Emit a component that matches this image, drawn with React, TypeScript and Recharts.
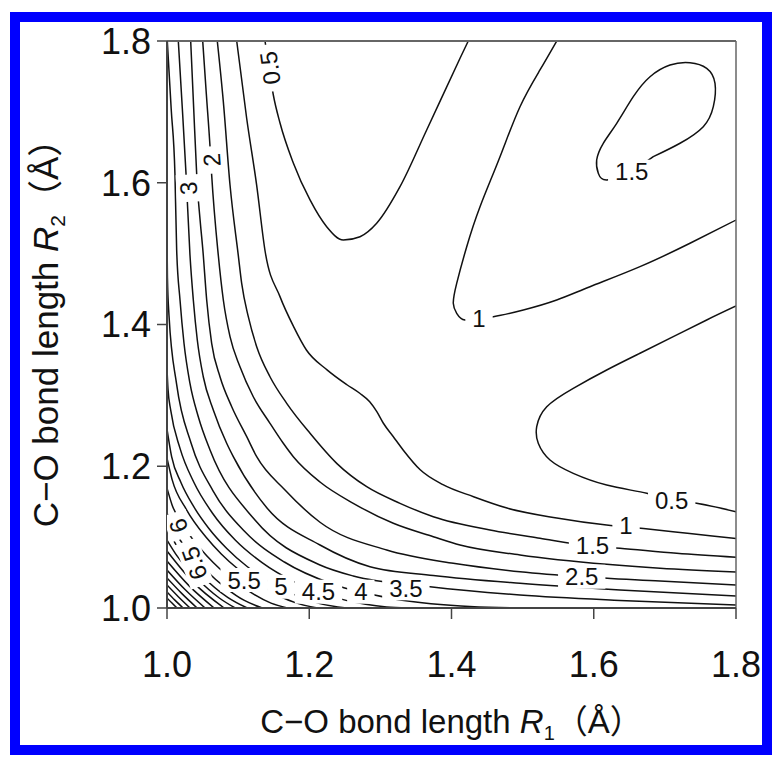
import React from 'react'
import { ComposedChart, Line, Scatter, XAxis, YAxis, ReferenceLine } from 'recharts'

const FONT = "'Liberation Sans', Arial, Helvetica, 'Noto Sans CJK JP', sans-serif"

const X_TICKS = [1.0, 1.2, 1.4, 1.6, 1.8]
const Y_TICKS = [1.0, 1.2, 1.4, 1.6, 1.8]

// contour lines, [R1, R2] in Å
const c05top = [
  [1.1378, 1.8], [1.1434, 1.7619], [1.1495, 1.7238], [1.1589, 1.6843], [1.1776, 1.6279],
  [1.2011, 1.5757], [1.2245, 1.538], [1.2479, 1.5192], [1.2714, 1.5239], [1.2948, 1.5428],
  [1.3276, 1.5944], [1.3651, 1.6744], [1.412, 1.7756], [1.4236, 1.8],
]
const c05right = [
  [1.8, 1.4261], [1.7588, 1.4064], [1.7118, 1.3828], [1.665, 1.3594], [1.6182, 1.3358],
  [1.5712, 1.31], [1.5339, 1.284], [1.5198, 1.2558], [1.522, 1.2324], [1.5385, 1.2088],
  [1.5712, 1.19], [1.6182, 1.1735], [1.6745, 1.1618], [1.7096, 1.1524], [1.7447, 1.1477],
  [1.8, 1.1359],
]
const c1ridge = [
  [1.548, 1.8], [1.5244, 1.7591], [1.4963, 1.7073], [1.4682, 1.6368], [1.4401, 1.5662],
  [1.4214, 1.5098], [1.4073, 1.4581], [1.4025, 1.4299], [1.4073, 1.4158], [1.419, 1.4063],
  [1.4401, 1.4092], [1.4588, 1.411], [1.501, 1.4205], [1.5479, 1.4346], [1.5947, 1.4533],
  [1.665, 1.4816], [1.7353, 1.5146], [1.8, 1.5474],
]
const c15loop = [
  [1.6837, 1.6368], [1.7213, 1.6557], [1.754, 1.6791], [1.7681, 1.7073], [1.7705, 1.7403],
  [1.7588, 1.7615], [1.7353, 1.7694], [1.7072, 1.7661], [1.6791, 1.7496], [1.6556, 1.7214],
  [1.6323, 1.6839], [1.6134, 1.6557], [1.6041, 1.6321], [1.6064, 1.6133], [1.6182, 1.6039],
  [1.651, 1.6152], [1.6837, 1.6368],
]
const c1 = [
  [1.098, 1.8], [1.112, 1.691], [1.126, 1.597], [1.138, 1.503], [1.159, 1.439], [1.178, 1.397],
  [1.196, 1.364], [1.225, 1.336], [1.253, 1.315], [1.271, 1.303], [1.285, 1.291], [1.295, 1.277],
  [1.304, 1.261], [1.318, 1.242], [1.332, 1.223], [1.356, 1.195], [1.388, 1.174], [1.431, 1.157],
  [1.478, 1.141], [1.548, 1.127], [1.618, 1.117], [1.67, 1.112], [1.735, 1.105], [1.8, 1.098],
]
const c15 = [
  [1.0707, 1.8], [1.0792, 1.7144], [1.0886, 1.5968], [1.1002, 1.498], [1.105, 1.458],
  [1.1143, 1.411], [1.1261, 1.3687], [1.1448, 1.3263], [1.1683, 1.2888], [1.2011, 1.2465],
  [1.2386, 1.2041], [1.2808, 1.1711], [1.3276, 1.1477], [1.3744, 1.1288], [1.4541, 1.11],
  [1.5244, 1.0983], [1.5971, 1.0874], [1.6369, 1.0842], [1.7167, 1.0771], [1.8, 1.0715],
]
const c2 = [
  [1.0502, 1.8], [1.0553, 1.7252], [1.0605, 1.6509], [1.0628, 1.611], [1.0721, 1.498],
  [1.0792, 1.4346], [1.0886, 1.3828], [1.1026, 1.3404], [1.1213, 1.2981], [1.1448, 1.2606],
  [1.1635, 1.2324], [1.1776, 1.2135], [1.2151, 1.1778], [1.2619, 1.1477], [1.3182, 1.1195],
  [1.3744, 1.1006], [1.412, 1.0889], [1.4963, 1.0748], [1.6182, 1.0616], [1.6932, 1.056],
  [1.8, 1.0508],
]
const c25 = [
  [1.0333, 1.8], [1.0375, 1.7055], [1.0418, 1.6109], [1.051, 1.498], [1.0558, 1.4346],
  [1.0628, 1.3735], [1.0745, 1.3263], [1.091, 1.284], [1.1121, 1.2417], [1.1261, 1.2135],
  [1.1659, 1.1665], [1.2151, 1.121], [1.3089, 1.0818], [1.4025, 1.063], [1.4963, 1.0512],
  [1.5831, 1.0441], [1.6932, 1.0381], [1.8, 1.0324],
]
const c3 = [
  [1.0159, 1.8], [1.0214, 1.7073], [1.0267, 1.6133], [1.0323, 1.498], [1.037, 1.4346],
  [1.0426, 1.3781], [1.051, 1.3263], [1.0651, 1.2794], [1.0839, 1.2324], [1.0932, 1.2135],
  [1.1406, 1.1411], [1.2151, 1.0889], [1.2854, 1.0583], [1.3744, 1.0459], [1.4963, 1.0348],
  [1.6369, 1.0254], [1.8, 1.0169],
]
const c35 = [
  [1.0004, 1.8], [1.0059, 1.704], [1.0112, 1.6109], [1.0136, 1.5051], [1.0183, 1.4346],
  [1.0239, 1.3735], [1.0323, 1.317], [1.044, 1.2699], [1.0605, 1.2229], [1.1237, 1.1241],
  [1.2151, 1.0607], [1.2619, 1.0452], [1.3698, 1.03], [1.4963, 1.0183], [1.6369, 1.0106],
  [1.8, 1.0042],
]
const c4 = [
  [1.0, 1.5245], [1.0006, 1.4667], [1.0028, 1.4131], [1.0135, 1.3158], [1.0338, 1.2327],
  [1.0649, 1.165], [1.1086, 1.1086], [1.165, 1.0649], [1.2327, 1.0338], [1.3158, 1.0135],
  [1.4131, 1.0028], [1.4667, 1.0006], [1.5245, 1.0],
]
const c45 = [
  [1.0, 1.3384], [1.0014, 1.3088], [1.0052, 1.2792], [1.0182, 1.2256], [1.0379, 1.177],
  [1.064, 1.1337], [1.0959, 1.0959], [1.1337, 1.064], [1.177, 1.0379], [1.2256, 1.0182],
  [1.2792, 1.0052], [1.3088, 1.0014], [1.3384, 1.0],
]
const c5 = [
  [1.0, 1.2524], [1.0065, 1.2135], [1.0196, 1.1771], [1.0374, 1.1433], [1.0589, 1.1122],
  [1.084, 1.084], [1.1122, 1.0589], [1.1433, 1.0374], [1.1771, 1.0196], [1.2135, 1.0065],
  [1.2524, 1.0],
]
const c55 = [
  [1.0, 1.2115], [1.0072, 1.1812], [1.0275, 1.1386], [1.055, 1.0998], [1.0763, 1.0763],
  [1.0998, 1.055], [1.1386, 1.0275], [1.1812, 1.0072], [1.2115, 1.0],
]
const c6 = [
  [1.0, 1.1692], [1.0069, 1.1462], [1.0247, 1.1134], [1.0474, 1.0832], [1.0646, 1.0646],
  [1.0832, 1.0474], [1.1134, 1.0247], [1.1462, 1.0069], [1.1692, 1.0],
]
const c65 = [
  [1.0, 1.134], [1.011, 1.1081], [1.0274, 1.0838], [1.0539, 1.0539], [1.0838, 1.0274],
  [1.1081, 1.011], [1.134, 1.0],
]
const c7 = [[1.0, 1.1128], [1.0151, 1.0853], [1.0474, 1.0474], [1.0853, 1.0151], [1.1128, 1.0]]
const c75 = [[1.0, 1.0959], [1.0141, 1.0735], [1.042, 1.042], [1.0735, 1.0141], [1.0959, 1.0]]
const c8 = [[1.0, 1.0804], [1.0365, 1.0365], [1.0804, 1.0]]
const c85 = [[1.0, 1.0663], [1.0312, 1.0312], [1.0663, 1.0]]
const c9 = [[1.0, 1.0536], [1.0257, 1.0257], [1.0536, 1.0]]
const c95 = [[1.0, 1.0423], [1.0206, 1.0206], [1.0423, 1.0]]
const c10 = [[1.0, 1.0324], [1.0159, 1.0159], [1.0324, 1.0]]
const c105 = [[1.0, 1.0226], [1.0111, 1.0111], [1.0226, 1.0]]
const c11 = [[1.0, 1.0141], [1.007, 1.007], [1.0141, 1.0]]

// contour labels
const TAGS = [
  { id: 'a05', x: 1.1448, y: 1.7619, t: '0.5' },
  { id: 'a3', x: 1.0299, y: 1.5922, t: '3' },
  { id: 'a2', x: 1.0628, y: 1.6321, t: '2' },
  { id: 'b15', x: 1.6534, y: 1.6156, t: '1.5' },
  { id: 'b1', x: 1.4387, y: 1.4092, t: '1' },
  { id: 'r05', x: 1.7096, y: 1.1524, t: '0.5' },
  { id: 'r1', x: 1.6454, y: 1.117, t: '1' },
  { id: 'r15', x: 1.5983, y: 1.0889, t: '1.5' },
  { id: 'r25', x: 1.5831, y: 1.0441, t: '2.5' },
  { id: 'r35', x: 1.3358, y: 1.0278, t: '3.5' },
  { id: 'r4', x: 1.2725, y: 1.023, t: '4' },
  { id: 'r45', x: 1.213, y: 1.023, t: '4.5' },
  { id: 'r5', x: 1.16, y: 1.03, t: '5' },
  { id: 'r55', x: 1.1085, y: 1.0395, t: '5.5' },
  { id: 'l65', x: 1.0382, y: 1.063, t: '6.5' },
  { id: 'l6', x: 1.0159, y: 1.116, t: '6' },
]
const TAG_ROT: Record<string, number> = { a05: -98, a3: -93, a2: -94, l65: -110, l6: -108 }

const toPts = (a: number[][]) => a.map(([x, y]) => ({ x, y }))

const SERIES: { key: string; pts: number[][]; curve: any }[] = [
  { key: 'c05top', pts: c05top, curve: 'monotoneX' },
  { key: 'c05right', pts: c05right, curve: 'natural' },
  { key: 'c1ridge', pts: c1ridge, curve: 'natural' },
  { key: 'c15loop', pts: c15loop, curve: 'natural' },
  { key: 'c1', pts: c1, curve: 'monotoneX' },
  { key: 'c15', pts: c15, curve: 'monotoneX' },
  { key: 'c2', pts: c2, curve: 'monotoneX' },
  { key: 'c25', pts: c25, curve: 'monotoneX' },
  { key: 'c3', pts: c3, curve: 'monotoneX' },
  { key: 'c35', pts: c35, curve: 'monotoneX' },
  { key: 'c4', pts: c4, curve: 'monotoneX' },
  { key: 'c45', pts: c45, curve: 'monotoneX' },
  { key: 'c5', pts: c5, curve: 'monotoneX' },
  { key: 'c55', pts: c55, curve: 'monotoneX' },
  { key: 'c6', pts: c6, curve: 'monotoneX' },
  { key: 'c65', pts: c65, curve: 'monotoneX' },
  { key: 'c7', pts: c7, curve: 'monotoneX' },
  { key: 'c75', pts: c75, curve: 'monotoneX' },
  { key: 'c8', pts: c8, curve: 'monotoneX' },
  { key: 'c85', pts: c85, curve: 'monotoneX' },
  { key: 'c9', pts: c9, curve: 'monotoneX' },
  { key: 'c95', pts: c95, curve: 'monotoneX' },
  { key: 'c10', pts: c10, curve: 'monotoneX' },
  { key: 'c105', pts: c105, curve: 'monotoneX' },
  { key: 'c11', pts: c11, curve: 'monotoneX' },
]

const TAG_FS = 24

const renderTag = (props: any) => {
  const { cx, cy, payload } = props
  if (cx == null || cy == null) return <g />
  const t: string = payload.t
  const w = t.split('').reduce((s, ch) => s + (ch === '.' ? 0.278 : 0.556), 0) * TAG_FS + 14
  const rot = TAG_ROT[payload.id] ?? 0
  return (
    <g transform={`translate(${cx},${cy}) rotate(${rot})`}>
      <rect x={-w / 2} y={-12} width={w} height={24} fill="#fff" />
      <text x={0} y={0} dy="0.36em" textAnchor="middle" fontSize={TAG_FS} fontFamily={FONT} fill="#111">
        {t}
      </text>
    </g>
  )
}

const Title = ({ sub, fs }: { sub: string; fs: number }) => (
  <>
    {'C\u2212O bond length '}
    <tspan fontStyle="italic">R</tspan>
    <tspan fontSize={Math.round(fs * 0.6)} dy={7}>{sub}</tspan>
    <tspan dy={-7}>{'\uFF08\u00C5\uFF09'}</tspan>
  </>
)

export default function App() {
  return (
    <div style={{ position: 'absolute', left: 0, top: 0, width: 775, height: 757, background: '#fff' }}>
      <ComposedChart width={775} height={757} margin={{ top: 41, right: 39, bottom: 49, left: 67 }}>
        {SERIES.map((s) => (
          <Line
            key={s.key}
            data={toPts(s.pts)}
            dataKey="y"
            type={s.curve}
            stroke="#111"
            strokeWidth={1.5}
            dot={false}
            activeDot={false}
            isAnimationActive={false}
            legendType="none"
          />
        ))}
        <Scatter data={TAGS} dataKey="y" shape={renderTag} isAnimationActive={false} legendType="none" />
        <ReferenceLine x={1.8} stroke="#666" strokeWidth={1.5} />
        <ReferenceLine y={1.8} stroke="#666" strokeWidth={2} />
        <XAxis
          type="number"
          dataKey="x"
          domain={[1, 1.8]}
          ticks={X_TICKS}
          allowDataOverflow
          interval={0}
          height={100}
          tickFormatter={(v: number) => v.toFixed(1)}
          tick={{ fontSize: 36, fill: '#111', fontFamily: FONT }}
          tickSize={11}
          tickMargin={32}
          axisLine={{ stroke: '#444', strokeWidth: 2 }}
          tickLine={{ stroke: '#444', strokeWidth: 1.5 }}
          label={{
            content: () => (
              <text x={451.5} y={733} textAnchor="middle" fontSize={33} fontFamily={FONT} fill="#111">
                <Title sub="1" fs={33} />
              </text>
            ),
          }}
        />
        <YAxis
          type="number"
          dataKey="y"
          domain={[1, 1.8]}
          ticks={Y_TICKS}
          allowDataOverflow
          interval={0}
          width={100}
          tickFormatter={(v: number) => v.toFixed(1)}
          tick={{ fontSize: 36, fill: '#111', fontFamily: FONT }}
          tickSize={10}
          tickMargin={6}
          axisLine={{ stroke: '#444', strokeWidth: 2 }}
          tickLine={{ stroke: '#444', strokeWidth: 1.5 }}
          label={{
            content: () => (
              <text
                x={58}
                y={324.5}
                transform="rotate(-90, 58, 324.5)"
                textAnchor="middle"
                fontSize={35}
                fontFamily={FONT}
                fill="#111"
              >
                <Title sub="2" fs={35} />
              </text>
            ),
          }}
        />
      </ComposedChart>
      <div
        style={{
          position: 'absolute',
          left: 10,
          top: 12,
          width: 762,
          height: 743,
          border: '10px solid #0000ff',
          boxSizing: 'border-box',
          pointerEvents: 'none',
        }}
      />
    </div>
  )
}
